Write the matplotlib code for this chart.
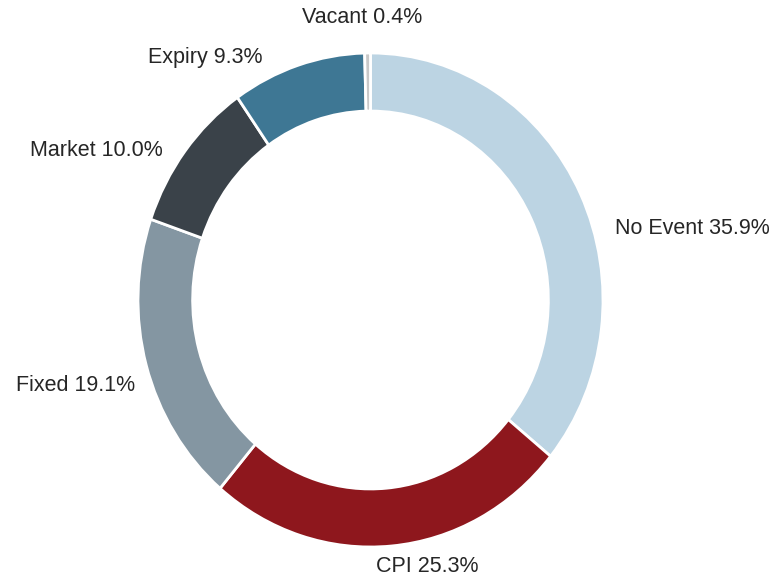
import matplotlib
matplotlib.use("Agg")
import matplotlib.pyplot as plt

categories = ["No Event", "CPI", "Fixed", "Market", "Expiry", "Vacant"]
shares = [35.9, 25.3, 19.1, 10.0, 9.3, 0.4]
colors = ["#BCD4E3", "#8E171D", "#8496A2", "#3A4249", "#3E7794", "#C8C8C8"]

# label anchor positions (axes data coords), layout only
label_pos = {
    "No Event": (1.05, 0.29, "left"),
    "CPI": (0.245, -1.08, "center"),
    "Fixed": (-1.27, -0.348, "center"),
    "Market": (-1.18, 0.607, "center"),
    "Expiry": (-0.71, 0.98, "center"),
    "Vacant": (-0.035, 1.143, "center"),
}

plt.rcParams['font.family'] = ['Liberation Sans', 'DejaVu Sans']

fig = plt.figure(figsize=(7.77, 5.77), dpi=100)
ax = fig.add_axes([138 / 777, 30 / 577, 465 / 777, 494 / 577])
ax.pie(shares, colors=colors, startangle=90, counterclock=False,
       radius=1.0,
       wedgeprops=dict(width=0.235, edgecolor="white", linewidth=2))
ax.set_aspect('auto')
ax.set_xlim(-1, 1)
ax.set_ylim(-1, 1)
ax.axis('off')

for cat, val in zip(categories, shares):
    x, y, ha = label_pos[cat]
    ax.text(x, y, f"{cat} {val:.1f}%", ha=ha, va="center", fontsize=15.5,
            color="#262626", clip_on=False)

fig.savefig("out.png", dpi=100)
